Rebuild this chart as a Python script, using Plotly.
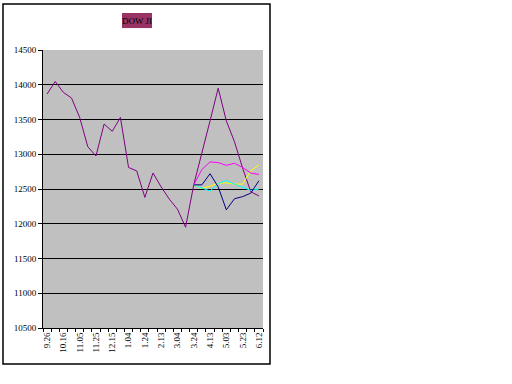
import plotly.graph_objects as go

dates = ["9.26", "10.06", "10.16", "10.26", "11.05", "11.15", "11.25", "12.05", "12.15", "12.25",
         "1.04", "1.14", "1.24", "2.03", "2.13", "2.23", "3.04", "3.14", "3.24", "4.03",
         "4.13", "4.23", "5.03", "5.13", "5.23", "6.02", "6.12"]
dow = [13866, 14047, 13890, 13809, 13530, 13108, 12975, 13435, 13330, 13530,
       12810, 12760, 12380, 12730, 12530, 12355, 12210, 11950, 12560, 13000,
       13480, 13950, 13480, 13180, 12800, 12460, 12400]
N = None
pink = [N]*18 + [12560, 12780, 12890, 12880, 12840, 12870, 12810, 12730, 12710]
navy = [N]*18 + [12560, 12560, 12720, 12530, 12200, 12360, 12390, 12440, 12620]
yellow = [N]*18 + [12560, 12510, 12540, 12580, 12590, 12570, 12570, 12760, 12850]
cyan = [N]*18 + [12560, 12510, 12470, 12580, 12620, 12570, 12520, 12480, 12500]
title_text = "DOW JI"
y_ticks = [10500, 11000, 11500, 12000, 12500, 13000, 13500, 14000, 14500]

xs = list(range(len(dates)))
font = dict(family="Liberation Serif", size=9, color="black")

fig = go.Figure()
for vals, col in [(dow, "#800080"), (yellow, "#FFFF00"), (cyan, "#00FFFF"),
                  (navy, "#000080"), (pink, "#FF00FF")]:
    fig.add_trace(go.Scatter(x=xs, y=vals, mode="lines",
                             line=dict(color=col, width=1), showlegend=False))

fig.update_layout(
    width=512, height=384,
    margin=dict(l=43, r=249, t=50, b=56),
    paper_bgcolor="white", plot_bgcolor="#C0C0C0",
    font=font,
    xaxis=dict(range=[-0.5, len(dates) - 0.5], tickmode="array",
               tickvals=xs[::2], ticktext=dates[::2], tickangle=-90,
               ticks="", showgrid=False, zeroline=False,
               showline=True, linecolor="black", linewidth=1,
               minor=dict(tickmode="array", tickvals=[i - 0.5 for i in xs] + [len(dates) - 0.5],
                          ticks="outside", ticklen=3, tickcolor="black", showgrid=False),
               tickfont=font),
    yaxis=dict(range=[10500, 14500], tickmode="array", tickvals=y_ticks,
               tickformat="d", showgrid=True, gridcolor="black", gridwidth=1,
               zeroline=False, showline=True, linecolor="black", linewidth=1,
               ticks="outside", ticklen=4, tickcolor="black", tickfont=font),
)

# outer frame
fig.add_shape(type="rect", xref="paper", yref="paper",
              x0=-0.1818, x1=1.0318, y0=-0.1295, y1=1.1655,
              line=dict(color="black", width=1.5), fillcolor="rgba(0,0,0,0)", layer="below")
# title box
fig.add_shape(type="rect", xref="paper", yref="paper",
              x0=0.359, x1=0.4955, y0=1.079, y1=1.133,
              line=dict(width=0), fillcolor="#993366")
fig.add_annotation(text=title_text, xref="paper", yref="paper", x=0.427, y=1.106,
                   xanchor="center", yanchor="middle",
                   showarrow=False, font=dict(family="Liberation Serif", size=9, color="black"))

fig.write_html("out.html")
